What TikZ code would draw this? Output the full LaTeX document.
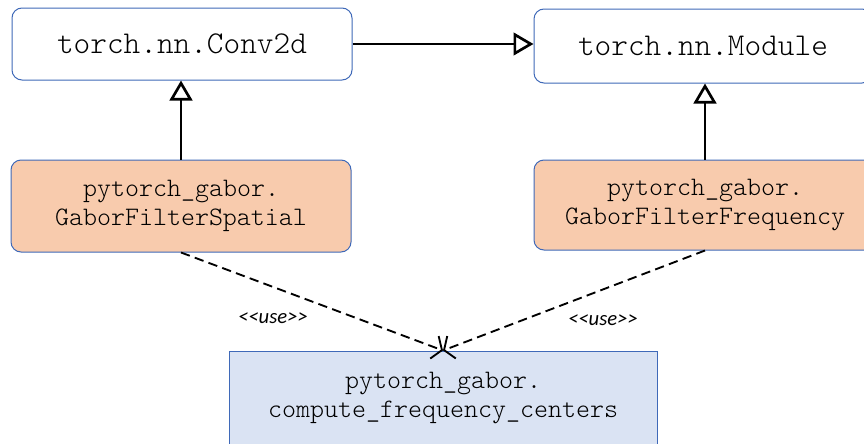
\documentclass[tikz,border=0pt]{standalone}
\usepackage{fontspec}
\setmonofont{Latin Modern Mono Light}
\setsansfont{Carlito}
\usetikzlibrary{arrows.meta}
\definecolor{umlblue}{HTML}{3F69B8}
\definecolor{implfill}{HTML}{F8CBAD}
\definecolor{funcfill}{HTML}{DAE3F3}
\tikzset{
  box/.style={draw=umlblue, line width=0.75pt, align=center, inner sep=0pt,
    font=\ttfamily\fontsize{20}{21.8}\selectfont},
  torchbox/.style={box, rounded corners=7.5pt, fill=white,
    font=\ttfamily\fontsize{23.8}{26}\selectfont},
  implbox/.style={box, rounded corners=7.5pt, fill=implfill},
  funcbox/.style={box, fill=funcfill},
  inherit/.style={line width=2pt, -{Triangle[open, length=15pt, width=17pt]}},
  uses/.style={line width=1.4pt, dash pattern=on 7pt off 4pt,
    -{Straight Barb[length=6pt, width=18pt]}},
  stereo/.style={font=\sffamily\itshape\fontsize{15.5}{18}\selectfont}
}
\begin{document}
\begin{tikzpicture}[x=0.75pt,y=-0.75pt]
\useasboundingbox (0,0) rectangle (864,443);
\clip (0,0) rectangle (864,443);
% torch classes
\node[torchbox, minimum width=255pt, minimum height=54pt] (conv) at (182,44) {torch.nn.Conv2d};
\node[torchbox, minimum width=253.5pt, minimum height=55.5pt] (module) at (703,46) {torch.nn.Module};
% gabor filters
\node[implbox, minimum width=255pt, minimum height=69pt] (spatial) at (181,206) {pytorch\_gabor.\\GaborFilterSpatial};
\node[implbox, minimum width=256.5pt, minimum height=67.5pt] (freq) at (705,205) {pytorch\_gabor.\\GaborFilterFrequency};
% helper function
\node[funcbox, minimum width=321pt, minimum height=70.5pt] (centers) at (443,398) {pytorch\_gabor.\\compute\_frequency\_centers};
\node[stereo] (useL) at (273,318) {<{}<use>{}>};
\node[stereo] (useR) at (603,320) {<{}<use>{}>};
\draw[inherit] (conv.east) -- (conv.east -| module.west);
\draw[inherit] (spatial.north) -- (spatial.north |- conv.south);
\draw[inherit] (freq.north) -- (freq.north |- module.south);
\draw[uses] (spatial.south) -- (centers.north);
\draw[uses] (freq.south) -- (centers.north);
\end{tikzpicture}
\end{document}
